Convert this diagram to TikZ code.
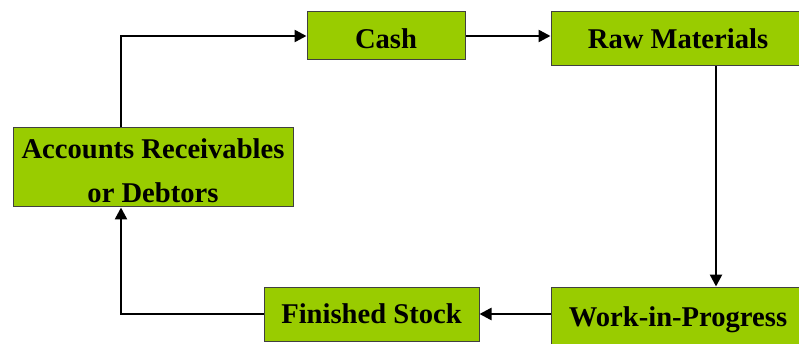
\documentclass[tikz,border=0pt]{standalone}
\usepackage{fontspec}
\setmainfont{Liberation Serif}
\usetikzlibrary{arrows.meta}
\definecolor{boxgreen}{HTML}{99CC00}
\tikzset{
  box/.style={draw=black!75, line width=1pt, fill=boxgreen, inner sep=0pt,
    text height=19pt, text depth=0pt,
    font=\fontsize{28.6}{44}\selectfont\bfseries, align=center},
  flow/.style={line width=2.5pt, -{Triangle[length=12pt,width=12pt]}}
}
\begin{document}
\begin{tikzpicture}[x=1pt,y=-1pt]
\useasboundingbox (0,0) rectangle (799,344);

\node[box, minimum width=158, minimum height=48, text height=26pt] (cash) at (386,36) {Cash};
\node[box, minimum width=254, minimum height=54] (raw) at (678,39) {Raw Materials};
\node[box, minimum width=280, minimum height=79, text height=71pt] (ar) at (153,167.5) {Accounts Receivables\\or Debtors};
\node[box, minimum width=215, minimum height=54] (fs) at (371.5,314) {Finished Stock};
\node[box, minimum width=254, minimum height=59] (wip) at (678,316.5) {Work-in-Progress};

\coordinate (up) at (121,0);
\coordinate (dn) at (716,0);

\draw[flow] (ar.north -| up) |- (cash.west);
\draw[flow] (cash.east) -- (cash.east -| raw.west);
\draw[flow] (raw.south -| dn) -- (wip.north -| dn);
\draw[flow] (wip.west |- fs.east) -- (fs.east);
\draw[flow] (fs.west) -| (ar.south -| up);
\end{tikzpicture}
\end{document}
